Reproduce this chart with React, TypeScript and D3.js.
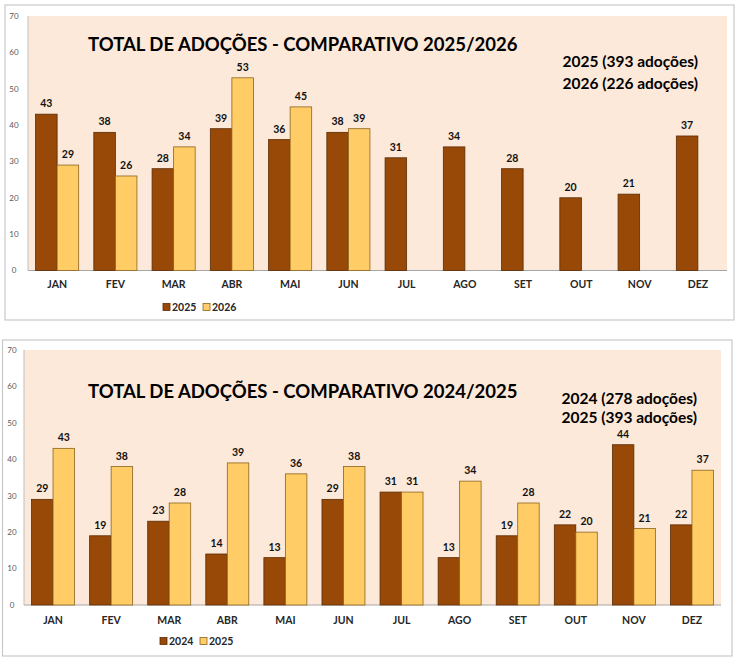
import { useEffect, useRef } from "react";
import * as d3 from "d3";

const months = ["JAN", "FEV", "MAR", "ABR", "MAI", "JUN", "JUL", "AGO", "SET", "OUT", "NOV", "DEZ"];
const yTicks = [0, 10, 20, 30, 40, 50, 60, 70];

const adoptions2024 = [29, 19, 23, 14, 13, 29, 31, 13, 19, 22, 44, 22];
const adoptions2025 = [43, 38, 28, 39, 36, 38, 31, 34, 28, 20, 21, 37];
const adoptions2026: (number | null)[] = [29, 26, 34, 53, 45, 39, null, null, null, null, null, null];

const topSeriesNames = ["2025", "2026"];
const bottomSeriesNames = ["2024", "2025"];
const topTitle = "TOTAL DE ADOÇÕES - COMPARATIVO 2025/2026";
const bottomTitle = "TOTAL DE ADOÇÕES - COMPARATIVO 2024/2025";
const topTotals = ["2025 (393 adoções)", "2026 (226 adoções)"];
const bottomTotals = ["2024 (278 adoções)", "2025 (393 adoções)"];

const DARK = "#984807";
const LIGHT = "#FFCC66";
const FONT = "Lato, 'Noto Sans', sans-serif";

interface PanelCfg {
  box: { x: number; y: number; w: number; h: number };
  plot: { left: number; right: number; top: number; bottom: number };
  title: string;
  titleY: number;
  totals: string[];
  totalsY: number[];
  totalsX: number;
  names: string[];
  series: (number | null)[][];
  catY: number;
  legendY: number;
  legendX: number;
  tickX: number;
}

function drawPanel(root: d3.Selection<SVGSVGElement, unknown, null, undefined>, cfg: PanelCfg) {
  const g = root.append("g");
  const { box, plot } = cfg;

  g.append("rect")
    .attr("x", box.x).attr("y", box.y).attr("width", box.w).attr("height", box.h)
    .attr("fill", "white").attr("stroke", "#c8c8c8").attr("stroke-width", 1.2);

  g.append("rect")
    .attr("x", plot.left).attr("y", plot.top)
    .attr("width", plot.right - plot.left).attr("height", plot.bottom - plot.top)
    .attr("fill", "#FDE9D9");

  const x = d3.scaleBand<string>().domain(months).range([plot.left, plot.right])
    .paddingInner(0.26).paddingOuter(0.13);
  const xs = d3.scaleBand<string>().domain(cfg.names).range([0, x.bandwidth()]);
  const y = d3.scaleLinear().domain([0, 70]).range([plot.bottom, plot.top]);

  // axes lines
  g.append("line")
    .attr("x1", plot.left).attr("x2", plot.left).attr("y1", plot.top).attr("y2", plot.bottom)
    .attr("stroke", "#bfbfbf");
  g.append("line")
    .attr("x1", plot.left).attr("x2", plot.right).attr("y1", plot.bottom).attr("y2", plot.bottom)
    .attr("stroke", "#a6a6a6");

  g.selectAll(".ytick").data(yTicks).enter()
    .append("text")
    .attr("x", cfg.tickX).attr("y", (d) => y(d)).attr("dy", "0.35em")
    .attr("text-anchor", "middle").attr("font-size", "8px").attr("fill", "#595959")
    .attr("font-family", FONT)
    .text((d) => d);

  const colors = [DARK, LIGHT];
  cfg.series.forEach((vals, si) => {
    const name = cfg.names[si];
    const pts = months.map((m, i) => ({ m, v: vals[i] })).filter((d) => d.v != null) as { m: string; v: number }[];
    g.selectAll(`.bar-${si}`).data(pts).enter()
      .append("rect")
      .attr("x", (d) => (x(d.m) ?? 0) + (xs(name) ?? 0))
      .attr("y", (d) => y(d.v))
      .attr("width", xs.bandwidth())
      .attr("height", (d) => y(0) - y(d.v))
      .attr("fill", colors[si])
      .attr("stroke", si === 0 ? "#5a2c04" : "#8a6420").attr("stroke-width", 0.8);

    g.selectAll(`.lbl-${si}`).data(pts).enter()
      .append("text")
      .attr("x", (d) => (x(d.m) ?? 0) + (xs(name) ?? 0) + xs.bandwidth() / 2)
      .attr("y", (d) => y(d.v) - 7)
      .attr("text-anchor", "middle").attr("font-size", "10.5px").attr("font-weight", "bold")
      .attr("fill", "#111").attr("font-family", FONT)
      .text((d) => d.v);
  });

  g.selectAll(".cat").data(months).enter()
    .append("text")
    .attr("x", (d) => (x(d) ?? 0) + x.bandwidth() / 2).attr("y", cfg.catY).attr("dy", "0.35em")
    .attr("text-anchor", "middle").attr("font-size", "10.5px").attr("font-weight", "bold")
    .attr("fill", "#262626").attr("font-family", FONT)
    .text((d) => d);

  // Title
  g.append("text")
    .attr("x", 88).attr("y", cfg.titleY)
    .attr("font-size", "18.5px").attr("font-weight", "bold").attr("fill", "#000")
    .attr("font-family", FONT)
    .text(cfg.title);

  g.selectAll(".tot").data(cfg.totals).enter()
    .append("text")
    .attr("x", cfg.totalsX).attr("y", (_, i) => cfg.totalsY[i]).attr("dy", "0.35em")
    .attr("text-anchor", "end").attr("font-size", "15.5px").attr("font-weight", "bold")
    .attr("fill", "#000").attr("font-family", FONT)
    .text((d) => d);

  // Legend
  const lg = g.append("g").attr("transform", `translate(${cfg.legendX},${cfg.legendY})`);
  cfg.names.forEach((n, i) => {
    const item = lg.append("g").attr("transform", `translate(${i * 40},0)`);
    item.append("rect").attr("x", 0).attr("y", -3.5).attr("width", 7).attr("height", 7)
      .attr("fill", colors[i]).attr("stroke", i === 0 ? "#5a2c04" : "#8a6420").attr("stroke-width", 0.8);
    item.append("text").attr("x", 9).attr("y", 0).attr("dy", "0.35em")
      .attr("font-size", "10.5px").attr("font-weight", "bold").attr("fill", "#262626")
      .attr("font-family", FONT)
      .text(n);
  });
}

export default function App() {
  const svgRef = useRef<SVGSVGElement>(null);

  useEffect(() => {
    if (!svgRef.current) return;
    const svg = d3.select(svgRef.current);
    svg.selectAll("*").remove();

    drawPanel(svg, {
      box: { x: 5, y: 5, w: 729, h: 315 },
      plot: { left: 28, right: 727, top: 16, bottom: 270.5 },
      title: topTitle,
      titleY: 51,
      totals: topTotals,
      totalsY: [62, 84],
      totalsX: 698,
      names: topSeriesNames,
      series: [adoptions2025, adoptions2026],
      catY: 284,
      legendY: 307,
      legendX: 163,
      tickX: 14,
    });

    drawPanel(svg, {
      box: { x: 2.5, y: 340, w: 729.5, h: 316 },
      plot: { left: 24, right: 721, top: 350, bottom: 605 },
      title: bottomTitle,
      titleY: 398,
      totals: bottomTotals,
      totalsY: [399, 418],
      totalsX: 697,
      names: bottomSeriesNames,
      series: [adoptions2024, adoptions2025],
      catY: 620,
      legendY: 641,
      legendX: 160,
      tickX: 12,
    });
  }, []);

  return (
    <div style={{ position: "absolute", left: 0, top: 0 }}>
      <svg ref={svgRef} width={738} height={661} style={{ display: "block" }} role="img"
        aria-label="Total de adoções - comparativo anual" />
    </div>
  );
}
